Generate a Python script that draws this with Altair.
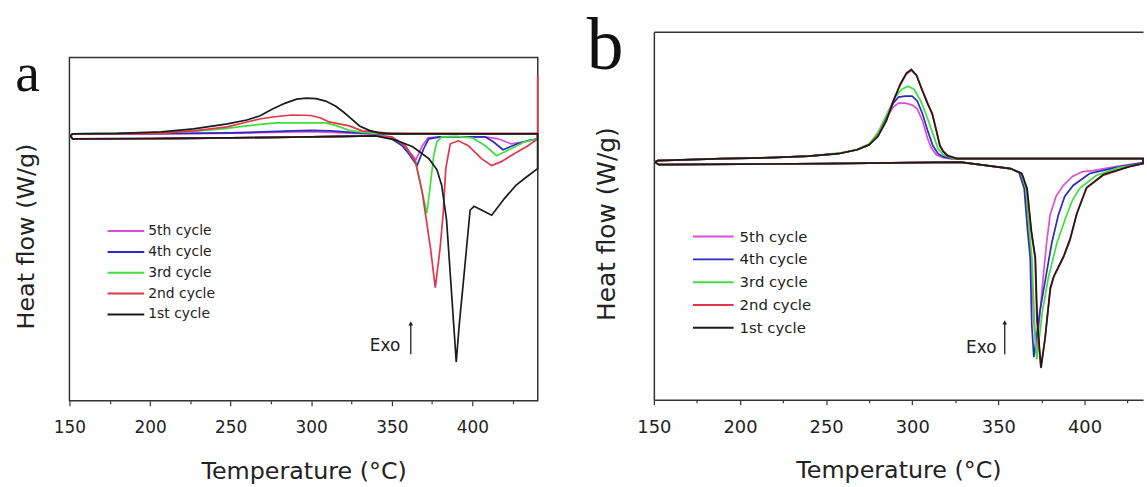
import altair as alt
import pandas as pd

FONT = "DejaVu Sans"
SERIF = "Liberation Serif"
CYCLES = ["5th cycle", "4th cycle", "3rd cycle", "2nd cycle", "1st cycle"]
COLORS = ["#d94fd9", "#2b2bbd", "#3fdf3f", "#e2354b", "#1b1b1b"]
XTICKS = [150, 175, 200, 225, 250, 275, 300, 325, 350, 375, 400, 425]

# ---------------- Panel a (T in degC, heat flow in arbitrary units) ----------------
A5_HEAT_T = [150.5, 152, 200, 250, 300, 340, 348, 356.5, 361, 365, 369, 372.5, 380, 400, 408, 416, 424, 432.4, 440.5]
A5_HEAT_H = [-0.2, -0.5, -0.5, -0.4, -0.3, -0.2, -0.3, -1.1, -1.8, -2.6, -1.2, -0.4, -0.3, -0.3, -0.3, -0.5, -1.0, -0.8, -0.5]
A5_COOL_T = [440.5, 335, 320, 305, 290, 270, 245, 200, 152, 150.5]
A5_COOL_H = [0, 0, 0.1, 0.2, 0.2, 0.12, 0.05, 0, 0, -0.2]

A4_HEAT_T = [150.5, 152, 200, 250, 300, 340, 348, 356.5, 361, 365.7, 369.8, 372.9, 380, 400, 407.8, 413, 419, 428, 434, 440.5]
A4_HEAT_H = [-0.2, -0.5, -0.5, -0.4, -0.3, -0.2, -0.3, -1.2, -2.1, -3.2, -1.5, -0.5, -0.3, -0.3, -0.3, -0.8, -1.6, -1.0, -0.7, -0.5]
A4_COOL_T = [440.5, 340, 325, 312, 300, 288, 270, 250, 220, 152, 150.5]
A4_COOL_H = [0, 0, 0.15, 0.3, 0.35, 0.3, 0.2, 0.1, 0.05, 0, -0.2]

A3_HEAT_T = [150.5, 152, 200, 250, 300, 340, 350, 358.5, 364.7, 368.8, 371.8, 373.9, 376, 378, 381, 390, 400, 408, 415, 424, 432.4, 440.5]
A3_HEAT_H = [-0.2, -0.5, -0.5, -0.4, -0.3, -0.2, -0.3, -1.2, -2.8, -5.8, -8.0, -5.2, -2.2, -0.8, -0.3, -0.25, -0.4, -1.2, -2.2, -1.5, -0.8, -0.5]
A3_COOL_T = [440.5, 340, 332, 323.6, 316, 309, 295, 278.5, 268, 260, 245, 230, 200, 152, 150.5]
A3_COOL_H = [0, 0.05, 0.15, 0.35, 0.8, 1.1, 1.1, 1.1, 0.95, 0.8, 0.5, 0.3, 0.1, 0, -0.2]

A2_HEAT_T = [150.5, 152, 200, 250, 300, 340, 350, 358.5, 364.7, 368.8, 371, 374, 377, 380, 382, 383.5, 386.3, 391.4, 397.5, 405.7, 412, 418, 426, 434.5, 440.5]
A2_HEAT_H = [-0.2, -0.5, -0.5, -0.4, -0.3, -0.2, -0.3, -1.2, -2.8, -5.8, -8.2, -11.5, -15.5, -11.5, -7.8, -3.5, -1.0, -0.7, -1.2, -2.5, -3.2, -2.8, -2.0, -1.2, -0.5]
A2_SPIKE_T = [440.5]
A2_SPIKE_H = [5.8]
A2_COOL_T = [440.5, 360, 346, 331.6, 323.6, 311, 306, 300, 288, 276, 268, 260, 248, 227, 207, 180, 152, 150.5]
A2_COOL_H = [0.05, 0.05, 0.1, 0.3, 0.8, 1.2, 1.6, 1.85, 1.9, 1.7, 1.5, 1.2, 0.7, 0.3, 0.05, 0, 0, -0.2]

A1_HEAT_T = [150.5, 152, 200, 250, 300, 340, 352, 363, 373, 378, 381, 384, 387, 390, 392, 394.5, 398.6, 401, 406, 412, 420, 427, 434, 440.5]
A1_HEAT_H = [-0.2, -0.5, -0.45, -0.4, -0.3, -0.2, -0.6, -1.3, -2.5, -3.6, -5.2, -8.7, -15.8, -23.0, -19.0, -14.8, -7.7, -7.3, -7.7, -8.2, -6.5, -5.2, -4.3, -3.5]
A1_COOL_T = [440.5, 400, 350, 342, 336, 330, 325, 320, 315, 309, 303, 297, 291, 284, 276, 268, 260, 248, 227, 207, 180, 152, 150.5]
A1_COOL_H = [0, 0, 0, 0.1, 0.35, 0.8, 1.5, 2.2, 2.8, 3.3, 3.55, 3.6, 3.5, 3.1, 2.5, 1.8, 1.4, 1.0, 0.5, 0.2, 0.05, 0, -0.2]

A_EXO_T = [345.8]
A_EXO_H = [-21.4]
A_ARROW_T = [361.8]
A_ARROW_H0 = [-22.2]
A_ARROW_H1 = [-19.1]

# ---------------- Panel b ----------------
B5_HEAT_T = [150.5, 153, 200, 250, 300, 328, 343.6, 357, 362.5, 365.5, 367.5, 369, 370.5, 372, 374, 376, 378, 380, 383.5, 387.7, 393, 399, 405, 418, 434]
B5_HEAT_H = [-0.35, -0.6, -0.55, -0.5, -0.4, -0.35, -0.7, -1.0, -1.4, -3.0, -7.3, -10, -16, -19.6, -16, -12, -8.5, -5.7, -3.8, -2.7, -1.8, -1.3, -1.2, -0.8, -0.4]
B5_COOL_T = [434, 325, 322, 318, 314, 311, 309, 306, 303, 300, 296, 292, 289, 285, 280, 275, 268, 257, 240, 218, 190, 152, 150.5]
B5_COOL_H = [0, 0, 0, 0.1, 0.4, 1.1, 2.0, 3.8, 5.0, 5.4, 5.6, 5.6, 5.2, 4.1, 2.5, 1.4, 0.9, 0.5, 0.25, 0.1, 0, -0.2, -0.35]

B4_HEAT_T = [150.5, 153, 200, 250, 300, 328, 343.6, 357, 362, 365, 367, 368.5, 369.4, 370.6, 374, 377.5, 381, 384.8, 388.5, 393.4, 403, 418, 434]
B4_HEAT_H = [-0.35, -0.6, -0.55, -0.5, -0.4, -0.35, -0.7, -1.0, -1.4, -3.0, -7.3, -10, -16.7, -20, -15.5, -12, -8.5, -5.7, -3.8, -2.7, -1.5, -0.9, -0.4]
B4_COOL_T = [434, 326, 323, 318, 315, 312, 309, 306, 303, 300, 296, 292, 289, 285, 280, 275, 268, 257, 240, 218, 190, 152, 150.5]
B4_COOL_H = [0, 0, 0, 0.2, 0.5, 1.3, 2.8, 4.5, 5.8, 6.3, 6.3, 6.2, 5.6, 4.2, 2.5, 1.4, 0.9, 0.5, 0.25, 0.1, 0, -0.2, -0.35]

B3_HEAT_T = [150.5, 153, 200, 250, 300, 328, 343.6, 357, 363, 366, 368, 369.5, 371, 372.3, 375.5, 379, 384, 389.6, 393, 397.2, 406.8, 420, 434]
B3_HEAT_H = [-0.35, -0.6, -0.55, -0.5, -0.4, -0.35, -0.7, -1.0, -1.4, -3.0, -7.3, -10, -16.5, -20.2, -15.5, -12, -8.5, -5.7, -4.2, -3.0, -1.7, -0.9, -0.5]
B3_COOL_T = [434, 328, 324, 318, 315, 312, 309, 305, 301, 297.5, 294, 290, 285, 280, 275, 268, 257, 240, 218, 190, 152, 150.5]
B3_COOL_H = [0, 0, 0, 0.4, 1.0, 2.5, 4.0, 5.8, 7.0, 7.3, 7.0, 6.2, 4.4, 2.6, 1.5, 0.95, 0.55, 0.25, 0.1, 0, -0.2, -0.35]

B2_HEAT_T = [150.5, 153, 200, 250, 300, 328, 343.6, 357, 363.5, 366.5, 369, 371.3, 372.3, 374.6, 377, 380, 382, 385.7, 387.7, 391.5, 395.3, 401, 410.7, 426, 434]
B2_HEAT_H = [-0.35, -0.6, -0.55, -0.5, -0.4, -0.35, -0.7, -1.0, -1.5, -3.0, -7.3, -10, -16, -21, -18.3, -13.3, -12, -10.7, -10.0, -8.3, -5.7, -3.0, -1.7, -0.8, -0.5]
B2_COOL_T = [434, 330, 326, 320.5, 318, 316, 314, 311.6, 309, 305.5, 302.5, 299.5, 296.5, 293, 289, 285, 280, 275, 268, 257, 240, 218, 190, 152, 150.5]
B2_COOL_H = [0, 0, 0, 0.35, 0.75, 1.4, 2.9, 4.6, 5.6, 7.1, 8.4, 8.9, 8.5, 7.4, 5.8, 3.9, 2.3, 1.4, 0.9, 0.5, 0.25, 0.1, 0, -0.2, -0.35]

B1_HEAT_T = [150.5, 153, 200, 250, 300, 328, 343.6, 357, 363.7, 366.7, 369.2, 371.5, 372.6, 374.8, 377.2, 380.2, 382.3, 386, 388, 391.8, 395.6, 401.3, 411, 426, 434]
B1_HEAT_H = [-0.35, -0.6, -0.55, -0.5, -0.4, -0.35, -0.7, -1.0, -1.5, -3.0, -7.3, -10, -16.3, -21.1, -18, -13, -11.8, -10.5, -9.8, -8.0, -5.5, -2.9, -1.6, -0.8, -0.5]
B1_COOL_T = [434, 330, 326, 320.5, 318, 316, 314, 311.6, 309, 305.5, 302.5, 299.5, 296.5, 293, 289, 285, 280, 275, 268, 257, 240, 218, 190, 152, 150.5]
B1_COOL_H = [0, 0, 0, 0.3, 0.7, 1.3, 2.8, 4.5, 5.5, 7.0, 8.4, 9.0, 8.6, 7.5, 5.8, 3.8, 2.2, 1.4, 0.9, 0.5, 0.25, 0.1, 0, -0.2, -0.35]

B_EXO_T = [340.1]
B_EXO_H = [-19.1]
B_ARROW_T = [353.7]
B_ARROW_H0 = [-19.7]
B_ARROW_H1 = [-16.5]


def loop(cycle, *parts):
    rows = []
    for T, H in parts:
        for t, h in zip(T, H):
            rows.append({"cycle": cycle, "T": t, "HF": h})
    df = pd.DataFrame(rows)
    df["i"] = range(len(df))
    return df


df_a = pd.concat([
    loop("5th cycle", (A5_HEAT_T, A5_HEAT_H), (A5_COOL_T, A5_COOL_H)),
    loop("4th cycle", (A4_HEAT_T, A4_HEAT_H), (A4_COOL_T, A4_COOL_H)),
    loop("3rd cycle", (A3_HEAT_T, A3_HEAT_H), (A3_COOL_T, A3_COOL_H)),
    loop("2nd cycle", (A2_HEAT_T, A2_HEAT_H), (A2_SPIKE_T, A2_SPIKE_H), (A2_COOL_T, A2_COOL_H)),
    loop("1st cycle", (A1_HEAT_T, A1_HEAT_H), (A1_COOL_T, A1_COOL_H)),
], ignore_index=True)

df_b = pd.concat([
    loop("5th cycle", (B5_HEAT_T, B5_HEAT_H), (B5_COOL_T, B5_COOL_H)),
    loop("4th cycle", (B4_HEAT_T, B4_HEAT_H), (B4_COOL_T, B4_COOL_H)),
    loop("3rd cycle", (B3_HEAT_T, B3_HEAT_H), (B3_COOL_T, B3_COOL_H)),
    loop("2nd cycle", (B2_HEAT_T, B2_HEAT_H), (B2_COOL_T, B2_COOL_H)),
    loop("1st cycle", (B1_HEAT_T, B1_HEAT_H), (B1_COOL_T, B1_COOL_H)),
], ignore_index=True)


def x_axis(label_size, title_size, domain, title_padding):
    return alt.Axis(
        values=XTICKS,
        labelExpr="datum.value % 50 === 0 ? datum.label : ''",
        tickSize={"condition": {"test": "datum.value % 50 !== 0", "value": 3}, "value": 5},
        labelFontSize=label_size,
        labelPadding=14,
        labelFlush=False,
        title="Temperature (°C)",
        titleFontSize=title_size,
        titlePadding=title_padding,
        domain=domain,
        grid=False,
    )


def y_axis(title_size, domain, title_padding, title_y):
    return alt.Axis(
        labels=False,
        ticks=False,
        domain=domain,
        grid=False,
        title="Heat flow (W/g)",
        titleFontSize=title_size,
        titlePadding=title_padding,
        titleY=title_y,
    )


def xenc(xs, axis):
    if axis is alt.Undefined:
        return alt.X("T:Q", scale=xs)
    return alt.X("T:Q", scale=xs, axis=axis)


def panel(df, xdom, ydom, xax, yax, legend, exo_t, exo_h, arr_t, arr_h0, arr_h1,
          letter, letter_size, letter_x, letter_y, top_axis, other_x_axis):
    xs = alt.Scale(domain=xdom, nice=False, zero=False)
    ys = alt.Scale(domain=ydom, nice=False, zero=False)
    lines = alt.Chart(df).mark_line(strokeWidth=1.7).encode(
        x=alt.X("T:Q", scale=xs, axis=xax),
        y=alt.Y("HF:Q", scale=ys, axis=yax),
        color=alt.Color("cycle:N", scale=alt.Scale(domain=CYCLES, range=COLORS), legend=legend),
        order="i:Q",
    )
    exo_df = pd.DataFrame({"T": exo_t, "HF": exo_h, "t": ["Exo"]})
    exo = alt.Chart(exo_df).mark_text(fontSize=17, color="#222", align="center", baseline="middle").encode(
        x=xenc(xs, top_axis),
        y=alt.Y("HF:Q", scale=ys),
        text="t:N",
    )
    arr_df = pd.DataFrame({"T": arr_t, "H0": arr_h0, "H1": arr_h1})
    shaft = alt.Chart(arr_df).mark_rule(color="#222", strokeWidth=1.3).encode(
        x=xenc(xs, other_x_axis),
        y=alt.Y("H0:Q", scale=ys),
        y2="H1:Q",
    )
    head = alt.Chart(arr_df).mark_point(shape="triangle-up", filled=True, size=22, color="#222", opacity=1).encode(
        x=xenc(xs, other_x_axis),
        y=alt.Y("H1:Q", scale=ys),
    )
    let = alt.Chart(pd.DataFrame({"t": [letter]})).mark_text(
        font=SERIF, fontSize=letter_size, align="left", baseline="alphabetic", color="#111"
    ).encode(x=alt.value(letter_x), y=alt.value(letter_y), text="t:N")
    return alt.layer(lines, exo, shaft, head, let)


legend_a = alt.Legend(
    orient="none", legendX=63.4, legendY=194, title=None, padding=0,
    symbolType="M-6.4,0H1", symbolSize=100, symbolStrokeWidth=2,
    labelFont=FONT, labelFontSize=14, labelOffset=2, rowPadding=7, labelColor="#222",
)
legend_b = alt.Legend(
    orient="none", legendX=64.9, legendY=199, title=None, padding=0,
    symbolType="M-6.6,0H1.6", symbolSize=100, symbolStrokeWidth=2,
    labelFont=FONT, labelFontSize=15, labelOffset=6.5, rowPadding=7, labelColor="#222",
)

panel_a = panel(
    df_a, [150, 440.6], [-26.9, 7.7],
    x_axis(17, 24, False, 24), y_axis(24, False, 31, 180), legend_a,
    A_EXO_T, A_EXO_H, A_ARROW_T, A_ARROW_H0, A_ARROW_H1,
    "a", 56, -54.6, 34, alt.Undefined, alt.Undefined,
).properties(width=472, height=346, view=alt.ViewBackground(stroke="#333", strokeWidth=1.5))

top_axis_b = alt.Axis(orient="top", labels=False, ticks=False, domain=True, title=None, grid=False)
panel_b = panel(
    df_b, [150, 434], [-24.3, 12.8],
    x_axis(18, 24, True, 22), y_axis(25, True, 35, 193.5), legend_b,
    B_EXO_T, B_EXO_H, B_ARROW_T, B_ARROW_H0, B_ARROW_H1,
    "b", 74, -67.6, 38, top_axis_b, None,
).resolve_axis(x="independent").properties(width=493, height=371)

spacer = alt.Chart(pd.DataFrame({"s": [""]})).mark_text().encode(text="s:N").properties(width=472, height=26)

left = alt.vconcat(spacer, panel_a, spacing=0, bounds="flush")

chart = alt.hconcat(left, panel_b, spacing=45).resolve_scale(color="independent").properties(
    padding={"left": 14, "top": 9, "right": 0, "bottom": 0}
).configure(font=FONT).configure_view(strokeWidth=0).configure_axis(
    labelFont=FONT, titleFont=FONT, titleFontWeight="normal", labelColor="#222", titleColor="#222",
    domainColor="#333", domainWidth=1.5, tickColor="#333", tickWidth=1.2,
)

chart.save("out.html", embed_options={"renderer": "svg", "actions": False})
